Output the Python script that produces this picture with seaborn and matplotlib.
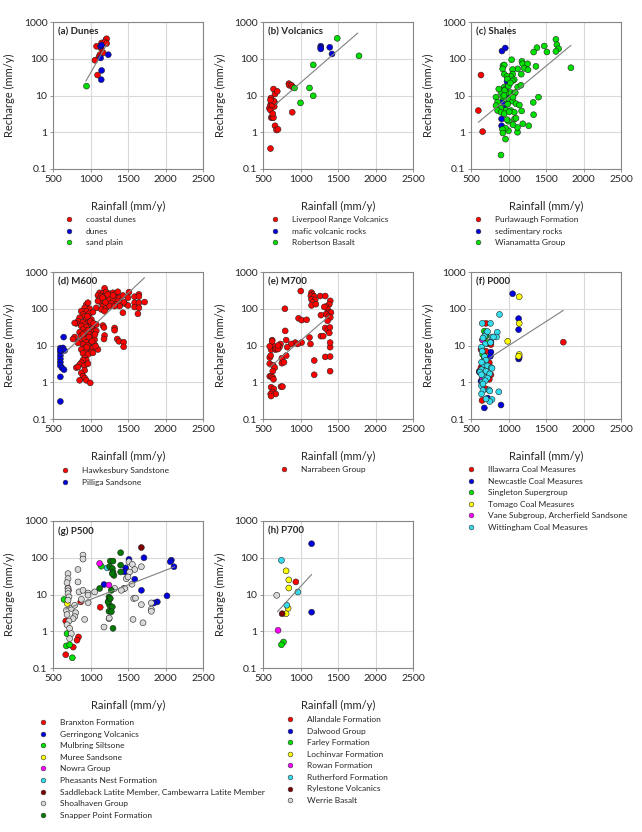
import numpy as np
import pandas as pd
import seaborn as sns
import matplotlib
matplotlib.use("Agg")
import matplotlib.pyplot as plt
from matplotlib.lines import Line2D
from matplotlib.ticker import FuncFormatter, NullLocator

# ---- data: (rainfall mm/y, recharge mm/y) ----
# (a) Dunes
coastal_dunes = [(1081, 218), (1148, 270), (1206, 330), (1215, 350), (1193, 285), (1143, 190),
                 (1126, 129), (1170, 145), (1112, 112), (1059, 91), (1094, 36), (1215, 260)]
dunes = [(1135, 218), (1135, 105), (1148, 48), (1143, 27), (1237, 129), (1148, 235)]
sand_plain = [(947, 18)]

# (b) Volcanics
liverpool_range = [(600, 0.36), (585, 4.5), (600, 4.0), (610, 2.5), (625, 2.5), (640, 2.5), (630, 3.2),
                   (600, 5.5), (610, 6.5), (620, 7.5), (605, 8.5), (640, 6.0), (655, 6.5), (650, 5.0),
                   (660, 1.5), (680, 1.15), (700, 1.2), (640, 15), (660, 11), (690, 13), (845, 21),
                   (850, 19), (880, 19), (895, 17), (890, 3.5), (620, 5.5), (645, 7.0), (600, 7.5)]
mafic_volcanic = [(1270, 220), (1270, 200), (1270, 185), (1390, 205), (1420, 135)]
robertson_basalt = [(1490, 360), (1780, 120), (1170, 68), (1120, 16), (1170, 9.8), (1000, 6.3), (920, 16)]

# (c) Shales
purlawaugh = [(633, 36), (598, 3.9), (655, 1.04)]
sedimentary = [(913, 162), (957, 196), (980, 24), (922, 6.8), (944, 4.5), (908, 2.3), (908, 1.5), (966, 10.5)]
wianamatta = [(1632, 337), (1645, 241), (1668, 187), (1632, 158), (1477, 222), (1512, 153), (1379, 200),
              (1335, 152), (1832, 57), (1366, 62), (1179, 85), (1188, 73), (1255, 73), (1042, 94),
              (1122, 53), (1055, 51), (926, 65), (944, 68), (922, 53), (1055, 38), (944, 38), (1033, 33),
              (980, 33), (1077, 27), (1170, 38), (1122, 17), (1166, 19), (944, 17), (960, 15), (900, 12),
              (989, 12), (1033, 12), (1077, 11.5), (833, 9), (922, 9), (966, 8), (1011, 8), (1055, 7),
              (855, 6.6), (989, 5.8), (833, 5.3), (900, 4.5), (966, 4), (1033, 3.9), (855, 3.9),
              (1077, 3.5), (1175, 3.8), (900, 3.5), (944, 3.2), (1010, 3.6), (1330, 6.5), (1400, 9),
              (1335, 3.0), (1270, 1.5), (1190, 1.7), (1120, 1.0), (1120, 1.35), (1080, 2.3), (1100, 2.4),
              (1000, 2.0), (980, 2.2), (1000, 1.1), (960, 1.3), (920, 1.2), (925, 0.95), (960, 0.65),
              (900, 0.24), (1060, 1.6), (950, 14), (1000, 18), (1050, 25), (1090, 12), (870, 15),
              (1210, 55), (1260, 50), (985, 28), (1025, 22), (940, 10), (1060, 9), (1100, 6), (1145, 5.5)]

# (d) M600
hawkesbury = [
    (1188, 360), (1122, 272), (1166, 260), (1210, 284), (1255, 256), (1299, 272), (1344, 260), (1365, 290),
    (1099, 230), (1144, 220), (1188, 212), (1233, 220), (1277, 212), (1321, 200), (1388, 200), (1432, 230),
    (1122, 186), (1166, 180), (1210, 172), (1255, 180), (1299, 162), (1366, 162), (1410, 146), (1455, 139),
    (1144, 146), (1188, 139), (1233, 131), (1277, 139), (1344, 131), (1166, 118), (1210, 106), (1255, 118),
    (1077, 106), (1144, 96), (1188, 86), (1388, 118), (1432, 78), (1321, 118), (1099, 162), (1513, 283),
    (1588, 213), (1645, 246), (1645, 215), (1588, 146), (1645, 146), (1721, 152), (1588, 111), (1645, 106),
    (1632, 73), (1500, 200), (1500, 123), (1446, 150), (1160, 200), (1230, 245), (1300, 230), (1200, 150),
    (944, 130), (966, 146), (922, 106), (988, 100), (944, 86), (877, 86), (900, 70), (988, 74), (1033, 81),
    (922, 63), (966, 57), (855, 57), (944, 51), (1011, 51), (833, 46), (900, 43), (966, 41), (811, 40),
    (922, 37), (1011, 37), (877, 34), (944, 32), (1033, 30), (900, 27), (966, 26), (855, 23), (922, 22),
    (1011, 23), (1055, 25), (944, 19), (988, 20), (877, 18), (1033, 18), (789, 17), (922, 15), (988, 14.6),
    (1055, 14.6), (855, 13), (944, 12.3), (1011, 11.8), (900, 10.6), (966, 10), (1055, 10.6), (833, 11.8),
    (922, 8.6), (988, 8.1), (1033, 8.6), (877, 7.8), (944, 7.0), (1011, 6.6), (900, 6.1), (966, 5.7),
    (1033, 6.3), (922, 4.6), (944, 4.0), (900, 4.0), (877, 3.4), (855, 3.0), (922, 2.85), (966, 3.2),
    (811, 2.5), (833, 2.6), (922, 2.1), (877, 1.8), (900, 1.46), (922, 1.3), (855, 1.13), (944, 1.13),
    (997, 0.96), (1077, 25), (789, 41), (766, 15), (1077, 37), (1099, 7.8), (1068, 9.6), (1166, 35),
    (1180, 31), (1321, 30), (1321, 26), (1188, 18.7), (1180, 15), (1357, 15), (1379, 13), (1442, 12.3),
    (1442, 9.2), (960, 62), (1000, 45), (1040, 40), (980, 17), (1020, 13), (1060, 20), (900, 20), (950, 9)]
pilliga = [(642, 16.9), (598, 8.5), (633, 8.6), (655, 7.3), (598, 6.6), (598, 5.3), (598, 4.3), (598, 3.5),
           (598, 2.85), (620, 2.46), (647, 2.2), (598, 1.4), (598, 0.30), (598, 7.5)]

# (e) M700
narrabeen = [
    (1003, 303), (1147, 275), (1160, 245), (1138, 225), (1183, 215), (1147, 180), (1196, 175), (1165, 147),
    (1147, 123), (1205, 133), (1263, 222), (1330, 222), (1397, 164), (1384, 133), (1339, 115), (1361, 97),
    (1317, 112), (1375, 79), (1406, 79), (1339, 71), (1375, 62), (1397, 58), (1361, 47), (1272, 67),
    (792, 100), (974, 55), (1015, 49), (1082, 50), (1330, 30), (1361, 26), (1392, 31), (1384, 22),
    (1272, 18), (1303, 18), (1120, 16.5), (1133, 11), (1015, 12), (930, 12), (961, 11), (876, 11),
    (823, 9), (809, 14), (796, 25), (733, 11), (719, 9), (644, 9.5), (608, 7.7), (622, 14), (622, 13),
    (666, 7.7), (675, 8.3), (590, 9.5), (590, 4.7), (603, 5.3), (590, 3.2), (635, 2.9), (657, 2.5),
    (751, 3.3), (751, 4.5), (810, 5.3), (630, 2.0), (590, 1.45), (608, 1.45), (630, 1.35), (640, 1.2),
    (608, 0.73), (644, 0.66), (626, 0.54), (603, 0.48), (670, 0.48), (608, 0.42), (740, 0.76), (760, 0.76),
    (1183, 3.9), (1183, 1.6), (1330, 4.9), (1395, 5.0), (1395, 2.0), (1395, 9), (1395, 12), (700, 8),
    (700, 10), (780, 3.5)]

# (f) P000
illawarra = [(700, 40), (700, 20), (656, 14.6), (722, 11.3), (766, 10.6), (633, 7.8), (700, 7.0),
             (678, 5.1), (744, 3.4), (633, 2.5), (611, 2.0), (678, 1.8), (655, 1.3), (744, 1.2),
             (700, 1.5), (766, 1.6), (647, 0.32), (700, 0.66), (1731, 12.3), (655, 2.8)]
newcastle = [(1055, 256), (1135, 54), (1135, 27), (1135, 4.3), (1143, 4.8), (900, 0.24), (678, 0.2),
             (722, 0.37), (766, 6.6), (766, 12.6), (758, 5.1), (611, 1.9), (633, 1.07)]
singleton = [(678, 24.6), (700, 21), (655, 5.7), (678, 4.6), (690, 3.0), (720, 12), (700, 18)]
tomago = [(1143, 212), (1143, 40), (989, 13), (1143, 5.7), (1135, 5.1), (680, 3.6)]
vane = [(655, 14), (655, 1.2), (678, 1.1)]
wittingham = [(880, 70), (650, 40), (760, 40), (850, 23), (780, 17), (840, 17), (700, 22), (680, 18),
              (720, 24), (660, 16), (690, 11), (640, 9), (650, 7), (680, 5), (700, 4), (670, 3), (640, 3.5),
              (720, 2.8), (770, 2.5), (640, 2.2), (700, 2.0), (750, 1.7), (680, 1.4), (720, 1.3), (650, 1.0),
              (640, 0.8), (660, 0.6), (740, 0.62), (750, 0.58), (640, 0.48), (870, 0.55), (780, 0.34),
              (750, 0.3), (700, 0.35), (620, 1.9), (640, 1.6), (690, 1.1), (660, 0.9), (780, 2.4),
              (800, 17), (760, 12)]

# (g) P500
branxton = [(700, 15), (705, 13), (870, 6.3), (1130, 4.5), (670, 1.9), (840, 0.7), (820, 0.57),
            (770, 0.37), (670, 0.23)]
gerringong = [(1513, 90), (1713, 100), (2078, 86), (2064, 78), (2113, 57), (1469, 53), (1456, 41),
              (1590, 26), (1679, 13), (1447, 14.6), (1180, 18.7), (2020, 9.2), (1891, 6.3), (1847, 5.9)]
mulbring = [(647, 7.3), (1144, 59), (687, 0.86), (678, 0.4), (722, 0.43), (758, 0.19)]
muree = [(691, 5.7)]
nowra = [(1122, 70), (1246, 18)]
pheasants_nest = [(1224, 53)]
saddleback = [(1678, 190)]
shoalhaven = [(900, 118), (900, 92), (833, 48), (700, 37), (700, 27), (687, 21), (700, 14.6), (700, 12.6),
              (700, 10.6), (713, 8.6), (700, 7.0), (678, 3.7), (744, 4.2), (687, 2.85), (802, 3.2),
              (789, 2.5), (767, 2.2), (922, 2.1), (713, 1.9), (687, 1.5), (722, 1.2), (744, 0.86),
              (722, 0.63), (847, 11.8), (900, 13), (967, 11), (967, 9.6), (1056, 11.8), (833, 22),
              (878, 7.4), (789, 5.1), (1180, 1.3), (1247, 2.2), (1513, 78), (1558, 66), (1590, 48),
              (1678, 57), (1522, 41), (1478, 27), (1456, 14.6), (1411, 13), (1553, 19), (1576, 7.8),
              (1678, 5.3), (1811, 5.9), (1811, 4.0), (1811, 3.5), (1567, 2.1), (1700, 1.7), (1500, 30),
              (1322, 14.6), (968, 6.0), (1600, 8), (1250, 2.3)]
snapper_point = [(1402, 137), (1264, 81), (1300, 81), (1255, 57), (1291, 51), (1300, 41), (1313, 33),
                 (1290, 37), (1402, 63), (1402, 41), (1122, 14.6), (1278, 13), (1246, 8.6), (1246, 7.0),
                 (1255, 5.1), (1246, 3.5), (1291, 4.6), (1300, 1.2), (1278, 3.4), (1233, 6.3), (1264, 7.8)]

# (h) P700
allandale = [(938, 22)]
dalwood = [(1148, 241), (1148, 3.3)]
farley = [(773, 0.51), (746, 0.43)]
lochinvar = [(808, 44), (844, 25), (844, 15), (835, 4.2), (808, 3.0)]
rowan = [(701, 1.06)]
rutherford = [(746, 85), (965, 11.7), (817, 5.1)]
rylestone = [(755, 3.0)]
werrie = [(683, 9.5)]

# trend line end points: (x0, y0, x1, y1)
trend_a = (938, 24.6, 1224, 257)
trend_b = (671, 5.8, 1763, 500)
trend_c = (598, 1.87, 1832, 231)
trend_d = (630, 5.6, 1720, 700)
trend_e = (590, 2.55, 1384, 64)
trend_f = (740, 4.5, 1730, 90)
trend_g = (669, 4.0, 2122, 57)
trend_h = (692, 3.4, 1148, 35)

RED, BLUE, GREEN = "#FF0000", "#0000E0", "#00E000"
YELLOW, MAGENTA, CYAN = "#FFFF00", "#FF00FF", "#33DDEE"
DKRED, GREY, DKGREEN = "#800000", "#D9D9D9", "#007A00"

panels = [
    ("(a) Dunes", [("coastal dunes", RED, coastal_dunes), ("dunes", BLUE, dunes),
                   ("sand plain", GREEN, sand_plain)], trend_a),
    ("(b) Volcanics", [("Liverpool Range Volcanics", RED, liverpool_range),
                       ("mafic volcanic rocks", BLUE, mafic_volcanic),
                       ("Robertson Basalt", GREEN, robertson_basalt)], trend_b),
    ("(c) Shales", [("Purlawaugh Formation", RED, purlawaugh), ("sedimentary rocks", BLUE, sedimentary),
                    ("Wianamatta Group", GREEN, wianamatta)], trend_c),
    ("(d) M600", [("Hawkesbury Sandstone", RED, hawkesbury), ("Pilliga Sandsone", BLUE, pilliga)], trend_d),
    ("(e) M700", [("Narrabeen Group", RED, narrabeen)], trend_e),
    ("(f) P000", [("Illawarra Coal Measures", RED, illawarra), ("Newcastle Coal Measures", BLUE, newcastle),
                  ("Singleton Supergroup", GREEN, singleton), ("Tomago Coal Measures", YELLOW, tomago),
                  ("Vane Subgroup, Archerfield Sandsone", MAGENTA, vane),
                  ("Wittingham Coal Measures", CYAN, wittingham)], trend_f),
    ("(g) P500", [("Branxton Formation", RED, branxton), ("Gerringong Volcanics", BLUE, gerringong),
                  ("Mulbring Siltsone", GREEN, mulbring), ("Muree Sandsone", YELLOW, muree),
                  ("Nowra Group", MAGENTA, nowra), ("Pheasants Nest Formation", CYAN, pheasants_nest),
                  ("Saddleback Latite Member, Cambewarra Latite Member", DKRED, saddleback),
                  ("Shoalhaven Group", GREY, shoalhaven), ("Snapper Point Formation", DKGREEN, snapper_point)],
     trend_g),
    ("(h) P700", [("Allandale Formation", RED, allandale), ("Dalwood Group", BLUE, dalwood),
                  ("Farley Formation", GREEN, farley), ("Lochinvar Formation", YELLOW, lochinvar),
                  ("Rowan Formation", MAGENTA, rowan), ("Rutherford Formation", CYAN, rutherford),
                  ("Rylestone Volcanics", DKRED, rylestone), ("Werrie Basalt", GREY, werrie)], trend_h),
]

sns.set_theme(style="white")
plt.rcParams["font.family"] = ["Lato", "DejaVu Sans"]

W, H = 642, 832
fig = plt.figure(figsize=(W / 100, H / 100), dpi=100)

col_left = [53, 263, 471]
row_top = [22, 272, 521]
legend_xy = {0: (66, 216), 1: (272, 216), 2: (475, 216),
             3: (62, 467), 4: (281, 466), 5: (468, 466),
             6: (40, 719), 7: (287, 716)}

for i, (title, groups, trend) in enumerate(panels):
    r, c = divmod(i, 3)
    ax = fig.add_axes([col_left[c] / W, 1 - (row_top[r] + 147) / H, 150 / W, 147 / H])

    rows = [(x, y, name) for name, col, pts in groups for x, y in pts]
    df = pd.DataFrame(rows, columns=["Rainfall", "Recharge", "Unit"])
    names = [g[0] for g in groups]
    pal = {g[0]: g[1] for g in groups}
    sns.scatterplot(data=df, x="Rainfall", y="Recharge", hue="Unit", hue_order=names, palette=pal,
                    s=18, edgecolor="#222222", linewidth=0.4, legend=False, ax=ax, zorder=3)

    x0, y0, x1, y1 = trend
    ax.plot([x0, x1], [y0, y1], color="#808080", lw=0.8, zorder=4)

    ax.set_yscale("log")
    ax.set_xlim(500, 2500)
    ax.set_ylim(0.1, 1000)
    ax.set_xticks([500, 1000, 1500, 2000, 2500])
    ax.set_yticks([0.1, 1, 10, 100, 1000])
    ax.yaxis.set_minor_locator(NullLocator())
    ax.yaxis.set_major_formatter(FuncFormatter(lambda v, p: f"{v:g}"))
    ax.grid(True, color="#D9D9D9", lw=0.8, zorder=0)
    ax.set_axisbelow(True)
    for sp in ax.spines.values():
        sp.set_color("#868686")
        sp.set_linewidth(0.8)
    ax.tick_params(labelsize=7.5, length=2, width=0.6, color="#868686", pad=2, direction="out",
                   bottom=True, left=True)
    ax.set_xlabel("Rainfall (mm/y)", fontsize=8)
    ax.set_ylabel("Recharge (mm/y)", fontsize=8)
    ax.xaxis.set_label_coords(0.5, -0.22)
    ax.yaxis.set_label_coords(-0.25, 0.5)
    ax.text(0.03, 0.965, title, transform=ax.transAxes, fontsize=7, fontweight="bold", va="top", ha="left")

    handles = [Line2D([], [], marker="o", ls="", markersize=3.4, markerfacecolor=col,
                      markeredgecolor="#333333", markeredgewidth=0.4) for _, col, _ in groups]
    lx, ly = legend_xy[i]
    fig.legend(handles, names, loc="upper left", bbox_to_anchor=(lx / W, 1 - ly / H), frameon=False,
               fontsize=6, handlelength=0.8, handletextpad=1.6, labelspacing=0.55, borderpad=0,
               borderaxespad=0)

fig.savefig("out.png", dpi=100)
